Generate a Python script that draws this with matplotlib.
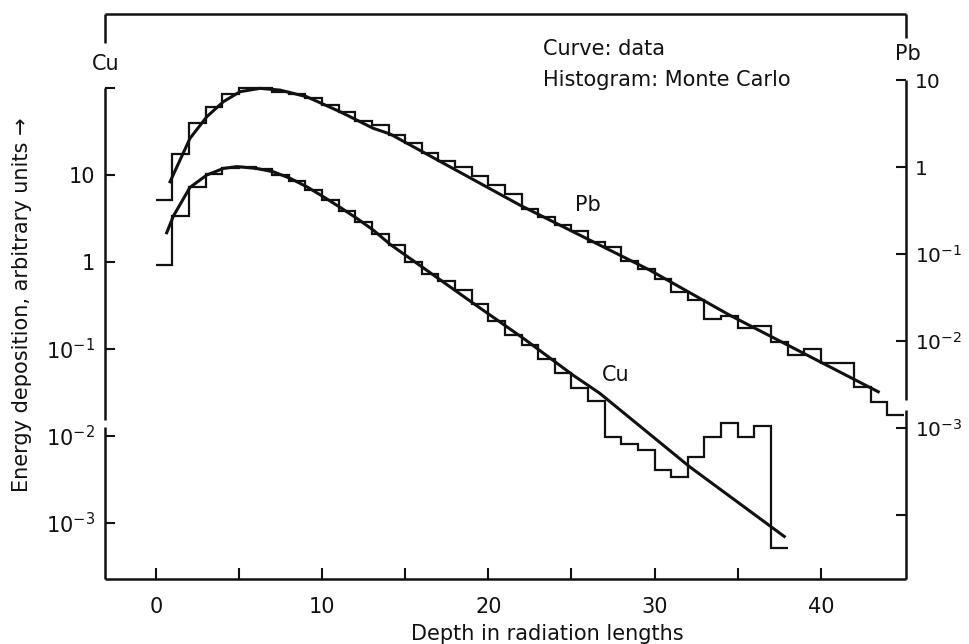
import numpy as np
import matplotlib
matplotlib.use("Agg")
import matplotlib.pyplot as plt
from matplotlib.ticker import FixedLocator, FixedFormatter, NullLocator

# --- values ---
# Monte Carlo histograms, one bin per radiation length starting at 0
cu_hist = [0.92, 3.4, 7.2, 10.2, 11.9, 12.5, 11.6, 10.0, 8.5, 6.8,
           5.2, 3.9, 2.9, 2.1, 1.57, 1.01, 0.72, 0.61, 0.476, 0.327,
           0.21, 0.145, 0.111, 0.076, 0.0535, 0.0353, 0.0255, 0.0098, 0.0082, 0.0069,
           0.0041, 0.0034, 0.0058, 0.0098, 0.0140, 0.0098, 0.0131, 0.00051]
pb_hist = [0.418, 1.41, 3.18, 4.93, 6.9, 8.03, 8.03, 7.35, 6.9, 6.17,
           5.17, 4.33, 3.4, 3.04, 2.33, 1.87, 1.44, 1.18, 0.99, 0.788,
           0.621, 0.49, 0.329, 0.268, 0.215, 0.185, 0.139, 0.119, 0.083, 0.0667,
           0.0512, 0.0369, 0.0296, 0.0178, 0.0194, 0.014, 0.0149, 0.0098, 0.0069, 0.0082,
           0.00564, 0.00564, 0.00299, 0.00201, 0.00141]

# measured curves (data)
cu_curve_x = [0.66, 1.06, 2.06, 3.07, 4.06, 4.87, 6.07, 7.07, 8.08, 9.08, 10.08,
              11.08, 12.09, 13.08, 14.09, 19.1, 22.1, 25.1, 26.7, 32.1, 37.8]
cu_curve_y = [2.17, 3.38, 7.22, 10.0, 11.9, 12.5, 11.9, 10.9, 9.17, 7.34, 5.63,
              4.26, 3.18, 2.33, 1.6, 0.335, 0.133, 0.050, 0.031, 0.00444, 0.00070]
pb_curve_x = [0.86, 2.06, 3.07, 4.06, 5.07, 6.27, 7.47, 9.08, 11.08, 13.08,
              14.09, 21.9, 28.5, 29.7, 34.5, 43.45]
pb_curve_y = [0.678, 2.14, 3.79, 5.63, 7.35, 8.03, 7.67, 6.43, 4.33, 2.79,
              2.40, 0.365, 0.0853, 0.0655, 0.0199, 0.00261]

x_ticks = [0, 5, 10, 15, 20, 25, 30, 35, 40]
x_tick_labels = ["0", "", "10", "", "20", "", "30", "", "40"]
cu_ticks = [100, 10, 1, 0.1, 0.01, 0.001]
cu_tick_labels = ["", "10", "1", r"$10^{-1}$", r"$10^{-2}$", r"$10^{-3}$"]
pb_ticks = [10, 1, 0.1, 0.01, 0.001, 0.0001]
pb_tick_labels = ["10", "1", r"$10^{-1}$", r"$10^{-2}$", r"$10^{-3}$", ""]

plt.rcParams["font.family"] = "DejaVu Sans"
plt.rcParams["mathtext.fontset"] = "dejavusans"
ink = "#111111"
fs = 15

fig = plt.figure(figsize=(9.69, 6.44), dpi=100)
ax = fig.add_axes([0.1084, 0.1009, 0.8266, 0.8773])
ax2 = ax.twinx()

ax.set_yscale("log")
ax2.set_yscale("log")
ax.set_xlim(-3.05, 45.12)
ax.set_ylim(2.27e-4, 709)
ax2.set_ylim(1.838e-5, 57.4)

# Cu on the left scale, Pb on the right scale
ax.stairs(cu_hist, np.arange(len(cu_hist) + 1), baseline=None, color=ink, lw=1.6)
ax.plot(cu_curve_x, cu_curve_y, color=ink, lw=2.2)
ax2.stairs(pb_hist, np.arange(len(pb_hist) + 1), baseline=None, color=ink, lw=1.6)
ax2.plot(pb_curve_x, pb_curve_y, color=ink, lw=2.2)

for a in (ax, ax2):
    for s in a.spines.values():
        s.set_visible(False)

# frame with broken side axes, as in the original drawing
H = 565.0
def fy(py):
    return (579 - py) / H

frame = [
    ([0, 1], [1, 1]),
    ([0, 0], [1, fy(43)]),
    ([1, 1], [1, fy(38)]),
    ([0, 0], [fy(88), fy(420)]),
    ([0, 0], [fy(427), 0]),
    ([1, 1], [fy(80), fy(400)]),
    ([1, 1], [fy(410), 0]),
    ([0, 1], [0, 0]),
]
for xs, ys in frame:
    ax.plot(xs, ys, color=ink, lw=1.8, transform=ax.transAxes, clip_on=False,
            solid_capstyle="butt")

ax.set_xticks(x_ticks)
ax.set_xticklabels(x_tick_labels)
ax.tick_params(axis="x", direction="in", length=8, width=1.5, pad=13,
               labelsize=fs, colors=ink)

ax.yaxis.set_major_locator(FixedLocator(cu_ticks))
ax.yaxis.set_major_formatter(FixedFormatter(cu_tick_labels))
ax.yaxis.set_minor_locator(NullLocator())
ax.tick_params(axis="y", direction="in", length=7, width=1.5, pad=7,
               labelsize=fs, colors=ink)

ax2.yaxis.set_major_locator(FixedLocator(pb_ticks))
ax2.yaxis.set_major_formatter(FixedFormatter(pb_tick_labels))
ax2.yaxis.set_minor_locator(NullLocator())
ax2.tick_params(axis="y", direction="in", length=7, width=1.5, pad=6.5,
                labelsize=14.5, colors=ink)

ax.set_xlabel("Depth in radiation lengths", fontsize=fs, color=ink)
ax.xaxis.set_label_coords(0.552, -0.080)
ax.set_ylabel("Energy deposition, arbitrary units \u2192", fontsize=fs, color=ink)
ax.yaxis.set_label_coords(-0.091, 0.485)

ax.text(0.001, 0.911, "Cu", transform=ax.transAxes, ha="center", va="center",
        fontsize=fs, color=ink)
ax.text(1.0025, 0.929, "Pb", transform=ax.transAxes, ha="center", va="center",
        fontsize=fs, color=ink)
ax.text(0.547, 0.938, "Curve: data", transform=ax.transAxes, ha="left",
        va="center", fontsize=fs, color=ink)
ax.text(0.547, 0.883, "Histogram: Monte Carlo", transform=ax.transAxes,
        ha="left", va="center", fontsize=fs, color=ink)
ax.text(0.603, 0.662, "Pb", transform=ax.transAxes, ha="center", va="center",
        fontsize=fs, color=ink)
ax.text(0.638, 0.361, "Cu", transform=ax.transAxes, ha="center", va="center",
        fontsize=fs, color=ink)

fig.savefig("out.png", dpi=100)
